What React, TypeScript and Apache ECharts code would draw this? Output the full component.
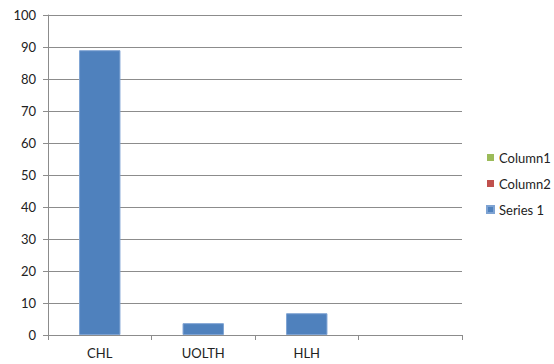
import React, { useEffect, useRef } from "react";
import * as echarts from "echarts";

const categories = ["CHL", "UOLTH", "HLH", ""];
const series1: (number | null)[] = [89, 3.7, 6.8, null];
const column1: (number | null)[] = [null, null, null, null];
const column2: (number | null)[] = [null, null, null, null];
const yTicks = { min: 0, max: 100, interval: 10 };

const FONT = "Lato, 'Open Sans', sans-serif";
const GRID = "#8c8c8c";

export default function App() {
  const ref = useRef<HTMLDivElement>(null);
  useEffect(() => {
    if (!ref.current) return;
    const chart = echarts.init(ref.current, undefined, { renderer: "svg" });
    chart.setOption({
      animation: false,
      textStyle: { fontFamily: FONT },
      grid: { left: 48, right: 92, top: 15, bottom: 29, containLabel: false },
      legend: {
        orient: "vertical",
        left: 486,
        top: 151,
        padding: 0,
        itemWidth: 7,
        itemHeight: 7,
        itemGap: 13,
        icon: "rect",
        textStyle: { fontFamily: FONT, fontSize: 13, color: "#222" },
        data: ["Column1", "Column2", "Series 1"],
      },
      xAxis: {
        type: "category",
        data: categories,
        boundaryGap: true,
        axisLine: { lineStyle: { color: GRID, width: 1 } },
        axisTick: { show: true, length: 5, lineStyle: { color: GRID } },
        axisLabel: { color: "#222", fontSize: 13, margin: 11, fontFamily: FONT },
        splitLine: { show: false },
      },
      yAxis: {
        type: "value",
        min: yTicks.min,
        max: yTicks.max,
        interval: yTicks.interval,
        axisLine: { show: true, lineStyle: { color: GRID, width: 1 } },
        axisTick: { show: true, length: 5, lineStyle: { color: GRID } },
        axisLabel: { color: "#222", fontSize: 13, margin: 12, fontFamily: FONT },
        splitLine: { show: true, lineStyle: { color: GRID, width: 1 } },
      },
      series: [
        {
          name: "Column1",
          type: "bar",
          stack: "s",
          data: column1,
          itemStyle: { color: "#9BBB59" },
        },
        {
          name: "Column2",
          type: "bar",
          stack: "s",
          data: column2,
          itemStyle: { color: "#C0504D" },
        },
        {
          name: "Series 1",
          type: "bar",
          stack: "s",
          data: series1,
          barWidth: "40%",
          itemStyle: { color: "#4F81BD", borderColor: "#7ea3d3", borderWidth: 1 },
        },
      ],
    });
    return () => chart.dispose();
  }, []);
  return (
    <div
      ref={ref}
      style={{ position: "absolute", left: 0, top: 0, width: 554, height: 364 }}
    />
  );
}
